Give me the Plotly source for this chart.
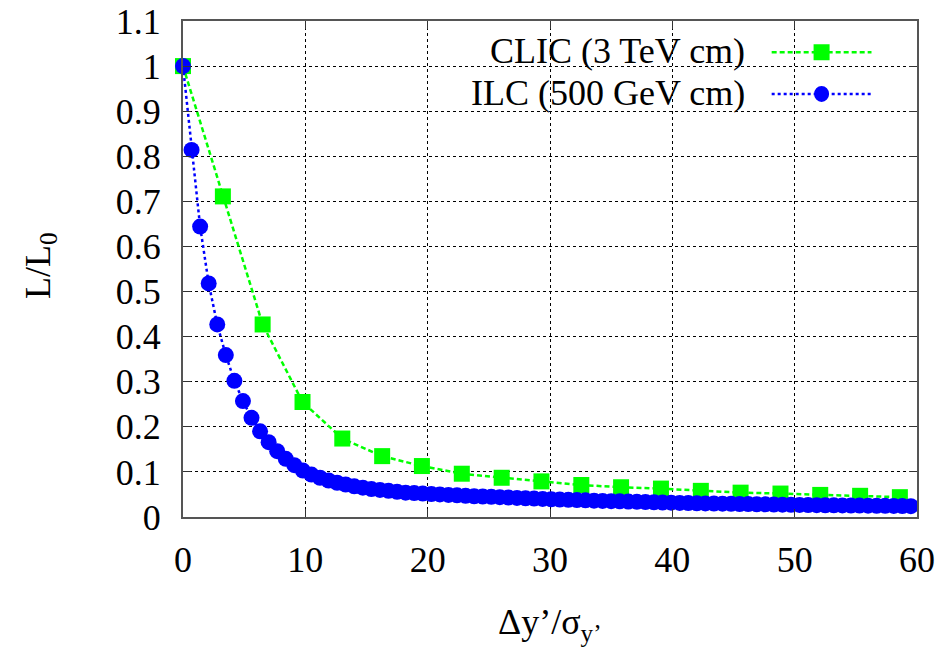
import plotly.graph_objects as go

# ---- data ----
clic_x = [0.0, 3.26, 6.51, 9.77, 13.02, 16.28, 19.53, 22.79, 26.05, 29.30,
          32.56, 35.81, 39.07, 42.33, 45.58, 48.84, 52.09, 55.35, 58.60]
clic_y = [1.000, 0.711, 0.427, 0.255, 0.174, 0.135, 0.113, 0.096, 0.087, 0.079,
          0.071, 0.066, 0.063, 0.058, 0.054, 0.052, 0.049, 0.047, 0.044]

ilc_x = [0.0, 0.7, 1.4, 2.1, 2.8, 3.5, 4.2, 4.9, 5.6, 6.3,
         7.0, 7.7, 8.4, 9.1, 9.8, 10.5, 11.2, 11.9, 12.6, 13.3,
         14.0, 14.7, 15.4, 16.1, 16.8, 17.5, 18.2, 18.9, 19.6, 20.3,
         21.0, 21.7, 22.4, 23.1, 23.8, 24.5, 25.2, 25.9, 26.6, 27.3,
         28.0, 28.7, 29.4, 30.1, 30.8, 31.5, 32.2, 32.9, 33.6, 34.3,
         35.0, 35.7, 36.4, 37.1, 37.8, 38.5, 39.2, 39.9, 40.6, 41.3,
         42.0, 42.7, 43.4, 44.1, 44.8, 45.5, 46.2, 46.9, 47.6, 48.3,
         49.0, 49.7, 50.4, 51.1, 51.8, 52.5, 53.2, 53.9, 54.6, 55.3,
         56.0, 56.7, 57.4, 58.1, 58.8, 59.5]
ilc_y = [1.000, 0.814, 0.644, 0.518, 0.427, 0.359, 0.302, 0.257, 0.220, 0.190,
         0.166, 0.146, 0.129, 0.115, 0.103, 0.094, 0.087, 0.081, 0.076, 0.072,
         0.068, 0.065, 0.062, 0.060, 0.058, 0.056, 0.054, 0.053, 0.052, 0.051,
         0.050, 0.049, 0.048, 0.047, 0.046, 0.0455, 0.0447, 0.0440, 0.0432, 0.0424,
         0.0416, 0.0408, 0.0400, 0.0393, 0.0387, 0.0381, 0.0375, 0.0369, 0.0363, 0.0357,
         0.0352, 0.0347, 0.0342, 0.0337, 0.0332, 0.0327, 0.0322, 0.0317, 0.0313, 0.0309,
         0.0305, 0.0301, 0.0298, 0.0295, 0.0292, 0.0289, 0.0286, 0.0283, 0.0280, 0.0277,
         0.0274, 0.0271, 0.0268, 0.0265, 0.0263, 0.0261, 0.0259, 0.0257, 0.0255, 0.0253,
         0.0251, 0.0249, 0.0247, 0.0245, 0.0243, 0.0241]

clic_name = "CLIC (3 TeV cm)"
ilc_name = "ILC (500 GeV cm)"
x_ticks = [0, 10, 20, 30, 40, 50, 60]

GREEN = "#00ff00"
BLUE = "#0000ff"
FONT = "Liberation Serif"

fig = go.Figure()
fig.add_trace(go.Scatter(
    x=clic_x, y=clic_y, mode="lines+markers", name=clic_name,
    line=dict(color=GREEN, width=2.5, dash="5px,3px"),
    marker=dict(symbol="square", size=16, color=GREEN),
    cliponaxis=False, showlegend=False))
fig.add_trace(go.Scatter(
    x=ilc_x, y=ilc_y, mode="lines+markers", name=ilc_name,
    line=dict(color=BLUE, width=2.5, dash="dot"),
    marker=dict(symbol="circle", size=16, color=BLUE),
    cliponaxis=False, showlegend=False))

axis_common = dict(
    showline=True, linecolor="#555555", linewidth=2, mirror="allticks",
    ticks="inside", ticklen=8, tickcolor="#333333", tickwidth=1,
    showgrid=True, gridcolor="black", griddash="dot", gridwidth=1,
    zeroline=False, automargin=False,
    tickfont=dict(family=FONT, size=36, color="black"),
)

fig.update_xaxes(range=[0, 60], tickvals=x_ticks, ticklabelstandoff=10, **axis_common)
fig.update_yaxes(range=[0, 1.1], dtick=0.1, tick0=0, ticklabelstandoff=13, **axis_common)

# white key box (hides grid behind the key, like gnuplot)
shapes = [dict(type="rect", xref="paper", yref="paper", x0=0.296, x1=0.945,
               y0=0.804, y1=0.996, fillcolor="white", line=dict(width=0),
               layer="between")]
rows = [(0.937, GREEN, "5px,3px", "square"), (0.853, BLUE, "dot", "circle")]
for yy, col, dash, sym in rows:
    shapes.append(dict(type="line", xref="paper", yref="paper",
                       x0=0.802, x1=0.938, y0=yy, y1=yy,
                       line=dict(color=col, width=2.5, dash=dash), layer="above"))
    if sym == "square":
        shapes.append(dict(type="rect", xref="paper", yref="paper",
                           xsizemode="pixel", ysizemode="pixel",
                           xanchor=0.870, yanchor=yy, x0=-8, x1=8, y0=-8, y1=8,
                           fillcolor=col, line=dict(width=0), layer="above"))
    else:
        shapes.append(dict(type="circle", xref="paper", yref="paper",
                           xsizemode="pixel", ysizemode="pixel",
                           xanchor=0.870, yanchor=yy, x0=-7.5, x1=7.5, y0=-8, y1=8,
                           fillcolor=col, line=dict(width=0), layer="above"))

annotations = [
    dict(text=clic_name, xref="paper", yref="paper", x=0.768, y=0.94,
         xanchor="right", yanchor="middle", showarrow=False,
         font=dict(family=FONT, size=36, color="black")),
    dict(text=ilc_name, xref="paper", yref="paper", x=0.768, y=0.855,
         xanchor="right", yanchor="middle", showarrow=False,
         font=dict(family=FONT, size=36, color="black")),
    dict(text="Δy’/σ<sub>y’</sub>", xref="paper", yref="paper", x=0.5, y=-0.217,
         xanchor="center", yanchor="middle", showarrow=False,
         font=dict(family=FONT, size=36, color="black")),
    dict(text="L/L<sub>0</sub>", xref="paper", yref="paper", x=-0.195, y=0.508,
         xanchor="center", yanchor="middle", showarrow=False, textangle=-90,
         font=dict(family=FONT, size=36, color="black")),
]

fig.update_layout(
    width=951, height=651,
    margin=dict(l=183, r=34, t=21, b=134),
    paper_bgcolor="white", plot_bgcolor="white",
    shapes=shapes, annotations=annotations,
    font=dict(family=FONT, size=36, color="black"),
)

fig.write_html("out.html")
